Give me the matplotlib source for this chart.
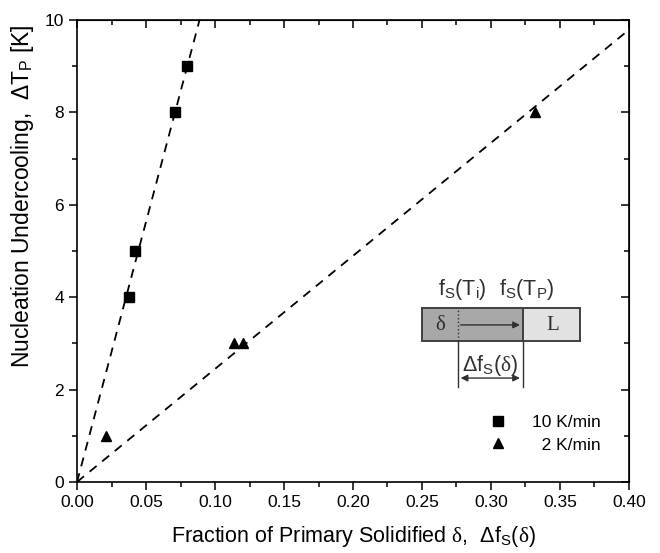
import numpy as np
import matplotlib
matplotlib.use('Agg')
import matplotlib.pyplot as plt
from matplotlib.patches import Rectangle

plt.rcParams['font.family'] = ['Liberation Sans', 'DejaVu Sans']
plt.rcParams['mathtext.fontset'] = 'custom'
plt.rcParams['mathtext.rm'] = 'Liberation Serif'
plt.rcParams['mathtext.it'] = 'Liberation Serif:italic'
plt.rcParams['mathtext.sf'] = 'Liberation Sans'

# data
frac_10 = [0.038, 0.042, 0.071, 0.080]
dT_10 = [4, 5, 8, 9]
frac_2 = [0.021, 0.114, 0.120, 0.332]
dT_2 = [1, 3, 3, 8]


def fit_origin(x, y):
    # least squares line through the origin
    x = np.asarray(x)
    y = np.asarray(y)
    return np.sum(x * y) / np.sum(x * x)


fig = plt.figure(figsize=(6.6, 5.53), dpi=100)
ax = fig.add_axes([0.1167, 0.1284, 0.8363, 0.8354])

xx = np.linspace(0, 0.4, 200)
ax.plot(xx, fit_origin(frac_10, dT_10) * xx, color='black', lw=1.3, ls=(0, (5, 4)))
ax.plot(xx, fit_origin(frac_2, dT_2) * xx, color='black', lw=1.3, ls=(0, (5, 4)))

ax.plot(frac_10, dT_10, 's', color='black', ms=7, label='10 K/min')
ax.plot(frac_2, dT_2, '^', color='black', ms=7.5, label='\u20072 K/min')

ax.set_xlim(0, 0.4)
ax.set_ylim(0, 10)
ax.set_xticks(np.arange(0, 0.401, 0.05))
ax.set_xticks(np.arange(0, 0.401, 0.025), minor=True)
ax.set_yticks(np.arange(0, 10.1, 2))
ax.set_yticks(np.arange(0, 10.1, 1), minor=True)
ax.xaxis.set_major_formatter(matplotlib.ticker.FormatStrFormatter('%.2f'))
ax.tick_params(which='both', direction='out', labelsize=12.5, width=1.1)
ax.tick_params(which='major', length=6)
ax.tick_params(which='minor', length=3.5)
for s in ax.spines.values():
    s.set_linewidth(1.2)

# mirrored ticks pointing inwards on top and right
top = ax.secondary_xaxis('top')
top.set_xticks(np.arange(0, 0.401, 0.05))
top.set_xticks(np.arange(0, 0.401, 0.025), minor=True)
top.tick_params(which='both', direction='in', labeltop=False, width=1.1)
top.tick_params(which='major', length=6)
top.tick_params(which='minor', length=3.5)
right = ax.secondary_yaxis('right')
right.set_yticks(np.arange(0, 10.1, 2))
right.set_yticks(np.arange(0, 10.1, 1), minor=True)
right.tick_params(which='both', direction='in', labelright=False, width=1.1)
right.tick_params(which='major', length=6)
right.tick_params(which='minor', length=3.5)

ax.set_xlabel(r'Fraction of Primary Solidified $\mathrm{\delta}$,  Δf$_\mathsf{S}$($\mathrm{\delta}$)',
              fontsize=15.5, labelpad=10)
ax.set_ylabel(r'Nucleation Undercooling,  ΔT$_\mathsf{P}$ [K]', fontsize=16.5)
ax.yaxis.set_label_coords(-0.075, 0.618)

ax.legend(loc='lower right', bbox_to_anchor=(0.978, 0.03), frameon=False, fontsize=12.5,
          handlelength=1.0, handletextpad=1.5, labelspacing=0.4)

# schematic inset
ax.add_patch(Rectangle((0.25, 3.05), 0.073, 0.72, facecolor='#a8a8a8', edgecolor='#404040', lw=1.4))
ax.add_patch(Rectangle((0.323, 3.05), 0.0415, 0.72, facecolor='#e2e2e2', edgecolor='#404040', lw=1.4))
ax.plot([0.276, 0.276], [3.05, 3.77], color='#303030', lw=1.0, ls=':')
ax.annotate('', xy=(0.323, 3.4), xytext=(0.276, 3.4),
            arrowprops=dict(arrowstyle='-|>', color='#303030', lw=1.0, mutation_scale=10))
ax.plot([0.276, 0.276], [2.05, 3.05], color='#303030', lw=1.0)
ax.plot([0.323, 0.323], [2.05, 3.05], color='#303030', lw=1.0)
ax.annotate('', xy=(0.323, 2.25), xytext=(0.276, 2.25),
            arrowprops=dict(arrowstyle='<|-|>', color='#303030', lw=1.0, mutation_scale=10))
ax.text(0.2635, 3.4, r'$\mathrm{\delta}$', ha='center', va='center', fontsize=15, color='#303030')
ax.text(0.345, 3.4, r'$\mathrm{L}$', ha='center', va='center', fontsize=15, color='#303030')
ax.text(0.279, 4.17, r'f$_\mathsf{S}$(T$_\mathsf{i}$)', ha='center', va='center', fontsize=15.5, color='#303030')
ax.text(0.326, 4.17, r'f$_\mathsf{S}$(T$_\mathsf{P}$)', ha='center', va='center', fontsize=15.5, color='#303030')
ax.text(0.2995, 2.52, r'Δf$_\mathsf{S}$($\mathrm{\delta}$)', ha='center', va='center', fontsize=15.5, color='#303030')

fig.savefig('out.png', dpi=100)
